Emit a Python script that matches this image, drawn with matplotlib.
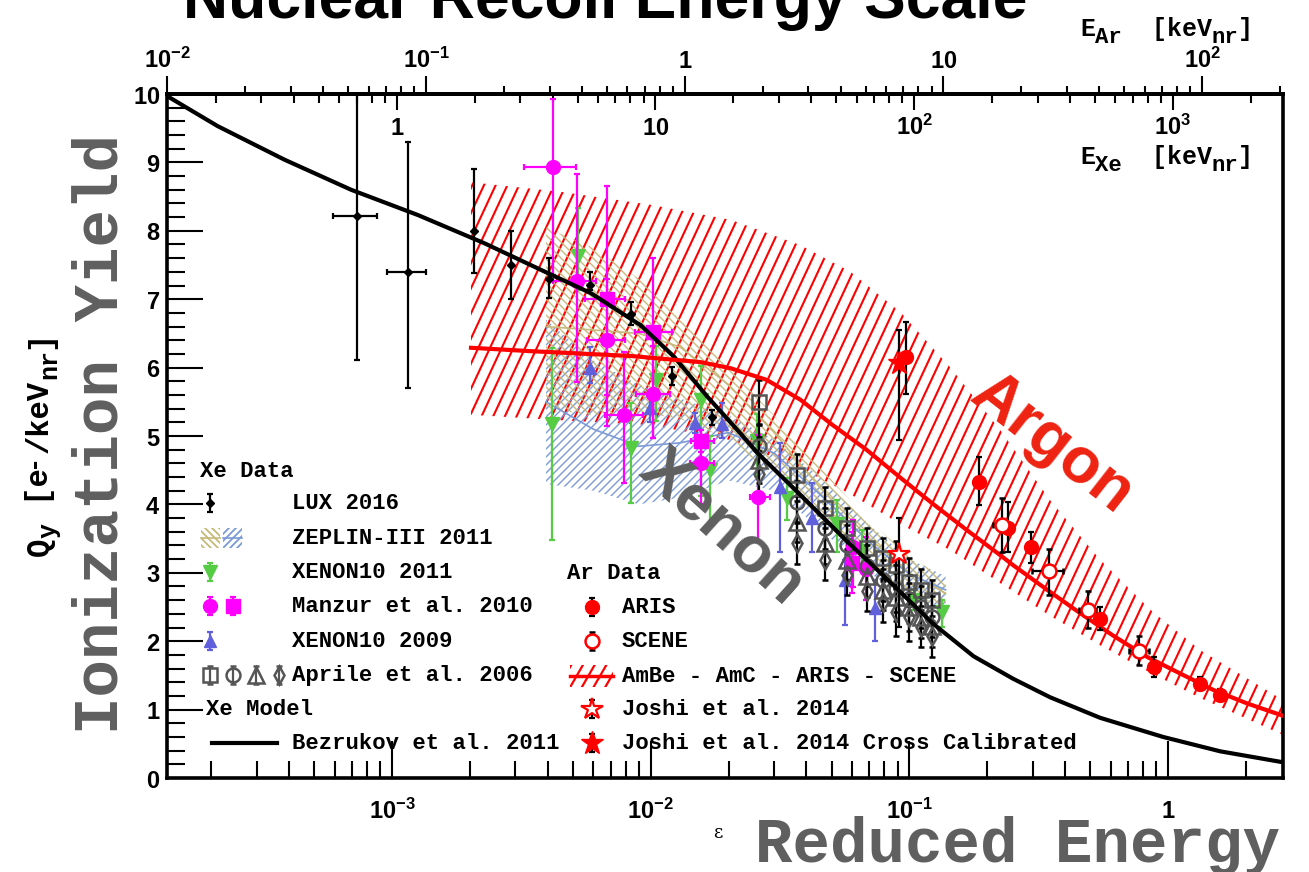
import numpy as np
import matplotlib
matplotlib.use("Agg")
import matplotlib.pyplot as plt
from matplotlib.patches import Polygon
from matplotlib.collections import LineCollection
from matplotlib.ticker import (LogLocator, FixedLocator, FuncFormatter, MultipleLocator,
                               NullFormatter)

plt.rcParams["mathtext.fontset"] = "custom"
plt.rcParams["mathtext.rm"] = "Liberation Mono:bold"
plt.rcParams["mathtext.it"] = "Liberation Mono:bold"
plt.rcParams["mathtext.bf"] = "Liberation Sans:bold"
plt.rcParams["mathtext.sf"] = "Liberation Sans:bold"
plt.rcParams["mathtext.default"] = "rm"

# ---------------- data (reduced energy epsilon, charge yield Qy) ----------------
# Bezrukov et al. 2011 model curve
bez_eps = [1.365e-4, 2.12e-4, 3.84e-4, 6.95e-4, 1.26e-3, 2.27e-3, 3.76e-3, 5.86e-3, 9.14e-3,
           1.23e-2, 1.66e-2, 2.22e-2, 2.59e-2, 3.79e-2, 5.92e-2, 7.73e-2, 9.22e-2, 1.24e-1,
           1.77e-1, 2.52e-1, 3.50e-1, 5.46e-1, 9.57e-1, 1.59, 2.78]
bez_q = [9.96, 9.53, 9.04, 8.60, 8.23, 7.82, 7.43, 7.09, 6.62,
         6.16, 5.57, 5.04, 4.75, 4.14, 3.41, 3.00, 2.72, 2.25,
         1.78, 1.45, 1.18, 0.88, 0.60, 0.39, 0.23]

# LUX 2016
lux_eps = [7.33e-4, 1.15e-3, 2.08e-3, 2.88e-3, 4.05e-3, 5.83e-3, 8.38e-3, 1.21e-2, 1.73e-2]
lux_q = [8.21, 7.40, 8.00, 7.50, 7.29, 7.21, 6.79, 5.87, 5.28]
lux_err_lo = [2.10, 1.70, 0.61, 0.50, 0.27, 0.08, 0.17, 0.12, 0.12]
lux_err_hi = [1.90, 1.90, 0.90, 0.50, 0.31, 0.19, 0.17, 0.14, 0.10]
lux_xerr_lo = [1.43e-4, 1.93e-4, 0, 0, 0, 0, 0, 0, 0]
lux_xerr_hi = [1.42e-4, 2.0e-4, 0, 0, 0, 0, 0, 0, 0]

# ZEPLIN-III 2011 bands (upper, centre, lower)
zep1_eps = [3.94e-3, 6.0e-3, 9.0e-3, 1.3e-2, 2.0e-2, 3.0e-2, 4.5e-2, 7.0e-2, 1.0e-1, 1.38e-1]
zep1_hi = [8.05, 7.75, 7.30, 6.70, 6.00, 5.30, 4.55, 3.75, 3.25, 2.90]
zep1_mid = [6.60, 6.55, 6.50, 6.30, 5.75, 5.05, 4.25, 3.50, 3.00, 2.70]
zep1_lo = [5.40, 5.30, 5.35, 5.25, 4.95, 4.40, 3.80, 3.10, 2.70, 2.45]
zep2_eps = [3.94e-3, 6.0e-3, 9.0e-3, 1.3e-2, 2.0e-2, 3.0e-2, 4.5e-2, 7.0e-2, 1.0e-1, 1.38e-1]
zep2_hi = [6.70, 6.10, 5.75, 5.55, 5.30, 4.95, 4.40, 3.70, 3.20, 2.95]
zep2_mid = [5.50, 5.10, 4.85, 4.90, 5.05, 4.75, 4.15, 3.45, 2.98, 2.75]
zep2_lo = [4.30, 4.20, 4.00, 4.10, 4.35, 4.20, 3.65, 3.00, 2.60, 2.50]

# XENON10 2011
x11_eps = [4.17e-3, 5.24e-3, 8.38e-3, 1.05e-2, 1.56e-2, 1.69e-2, 2.58e-2, 3.35e-2, 5.26e-2, 6.56e-2, 1.04e-1, 1.34e-1]
x11_q = [5.18, 7.63, 4.82, 5.82, 5.53, 4.50, 4.92, 4.09, 3.71, 3.32, 2.60, 2.43]
x11_err_lo = [1.70, 0.50, 0.80, 0.60, 1.40, 0.80, 0.50, 0.32, 0.40, 0.30, 0.15, 0.22]
x11_err_hi = [1.10, 0.70, 0.66, 0.50, 0.50, 0.50, 0.40, 0.30, 0.35, 0.30, 0.15, 0.17]

# Manzur et al. 2010 (circles and squares)
manc_eps = [4.20e-3, 5.18e-3, 6.76e-3, 7.85e-3, 1.02e-2, 1.57e-2, 2.59e-2, 6.07e-2, 6.82e-2]
manc_q = [8.93, 7.27, 6.40, 5.30, 5.61, 4.61, 4.11, 3.38, 3.06]
manc_err_lo = [1.58, 1.48, 0.80, 0.99, 0.64, 0.60, 0.66, 0.59, 0.46]
manc_err_hi = [1.00, 1.56, 0.90, 0.93, 0.70, 0.40, 0.90, 0.39, 0.47]
manc_xerr_lo = [0.95e-3, 0.98e-3, 1.1e-3, 1.2e-3, 1.4e-3, 1.5e-3, 1.8e-3, 0, 0]
manc_xerr_hi = [0.95e-3, 0.95e-3, 1.2e-3, 1.5e-3, 1.7e-3, 1.8e-3, 3.0e-3, 0, 0]
mans_eps = [6.76e-3, 1.02e-2, 1.57e-2, 6.00e-2]
mans_q = [7.01, 6.52, 4.93, 3.15]
mans_err_lo = [1.87, 1.55, 0.16, 0.45]
mans_err_hi = [1.64, 1.08, 0.16, 0.45]
mans_xerr_lo = [1.2e-3, 1.5e-3, 1.4e-3, 0]
mans_xerr_hi = [1.2e-3, 1.9e-3, 1.9e-3, 0]

# XENON10 2009
x09_eps = [5.82e-3, 9.93e-3, 1.48e-2, 1.89e-2, 3.15e-2, 4.19e-2, 5.66e-2, 7.33e-2]
x09_q = [5.99, 5.41, 5.19, 5.18, 4.26, 3.80, 2.89, 2.48]
x09_err_lo = [0.22, 0.20, 0.15, 0.21, 0.95, 0.49, 0.65, 0.48]
x09_err_hi = [0.31, 0.15, 0.15, 0.30, 0.64, 0.51, 0.30, 0.41]

# Aprile et al. 2006 (four data sets at common energies)
apr_eps = [2.62e-2, 3.68e-2, 4.72e-2, 5.74e-2, 6.85e-2, 7.91e-2, 8.87e-2, 9.95e-2, 1.11e-1, 1.22e-1]
apr_sq = [5.49, 4.43, 3.95, 3.65, 3.36, 3.21, 3.11, 2.87, 2.75, 2.60]
apr_ci = [4.85, 4.04, 3.65, 3.40, 3.10, 2.89, 2.77, 2.62, 2.50, 2.36]
apr_tr = [4.65, 3.75, 3.43, 3.19, 2.95, 2.75, 2.65, 2.50, 2.35, 2.22]
apr_di = [4.45, 3.43, 3.19, 2.97, 2.74, 2.58, 2.43, 2.35, 2.21, 2.07]
apr_err = [0.33, 0.30, 0.30, 0.30, 0.30, 0.30, 0.35, 0.35, 0.30, 0.30]

# Argon: ARIS
aris_eps = [9.73e-2, 1.86e-1, 2.40e-1, 2.95e-1, 5.46e-1, 8.83e-1, 1.33, 1.59]
aris_q = [6.15, 4.33, 3.66, 3.37, 2.33, 1.63, 1.38, 1.22]
aris_err_lo = [0.53, 0.34, 0.35, 0.23, 0.17, 0.15, 0.10, 0.08]
aris_err_hi = [0.52, 0.36, 0.38, 0.23, 0.17, 0.14, 0.10, 0.08]
# Argon: SCENE
scene_eps = [2.28e-1, 3.45e-1, 4.89e-1, 7.73e-1]
scene_q = [3.70, 3.02, 2.46, 1.86]
scene_err_lo = [0.39, 0.34, 0.27, 0.21]
scene_err_hi = [0.39, 0.33, 0.28, 0.21]
scene_xerr = [1.8e-2, 4.6e-2, 3.8e-2, 7.0e-2]
# Argon: Joshi et al. 2014 and its cross-calibrated value
joshi_eps = [9.10e-2]
joshi_q = [3.28]
joshi_err_lo = [1.07]
joshi_err_hi = [0.52]
joshicc_eps = [9.10e-2]
joshicc_q = [6.06]
joshicc_err_lo = [1.12]
joshicc_err_hi = [0.49]

# Argon model curve
ar_eps = [2.02e-3, 3.44e-3, 8.38e-3, 1.56e-2, 2.04e-2, 2.81e-2, 3.79e-2, 5.05e-2, 6.82e-2,
          9.23e-2, 1.24e-1, 1.66e-1, 2.24e-1, 2.52e-1, 3.41e-1, 4.57e-1, 6.14e-1, 8.30e-1,
          1.11, 1.49, 2.02, 2.78]
ar_q = [6.29, 6.24, 6.17, 6.08, 5.99, 5.82, 5.53, 5.16, 4.80,
        4.39, 4.00, 3.63, 3.26, 3.11, 2.75, 2.41, 2.08, 1.77,
        1.53, 1.29, 1.09, 0.91]
# AmBe - AmC - ARIS - SCENE band
arb_eps = [2.02e-3, 4.50e-3, 1.0e-2, 2.04e-2, 3.79e-2, 5.92e-2, 9.23e-2, 1.44e-1, 2.24e-1,
           3.50e-1, 5.46e-1, 8.53e-1, 1.33, 2.78]
arb_hi = [8.71, 8.57, 8.38, 8.16, 7.79, 7.40, 6.81, 6.00, 5.09, 4.06, 3.19, 2.46, 1.87, 1.14]
arb_lo = [5.31, 5.23, 5.16, 4.94, 4.53, 4.15, 3.71, 3.33, 2.85, 2.37, 1.94, 1.54, 1.17, 0.63]

# axis tick positions
eps_ticks = [1e-3, 1e-2, 1e-1, 1]
ear_ticks = [1e-2, 1e-1, 1, 10, 100]
exe_ticks = [1, 10, 100, 1000]

# ---------------- figure ----------------
W, H = 1309, 872
PT = 100 / 72.0
fig = plt.figure(figsize=(W / 100, H / 100), dpi=100)
L, R, T, B = 167, 1283, 94, 778
ax = fig.add_axes([L / W, 1 - B / H, (R - L) / W, (B - T) / H])
ax.set_xscale("log")
ax.set_xlim(1.35e-4, 2.78)
ax.set_ylim(0, 10)

AW, AH = R - L, B - T


def pa(x, y):
    """pixel position -> axes fraction"""
    return (x - L) / AW, (B - y) / AH


def hatch_lines(angle_deg, spacing_px):
    t = np.tan(np.radians(angle_deg))
    segs = []
    dx = AH / t
    for x0 in np.arange(-abs(dx) - 50, AW + abs(dx) + 50, spacing_px):
        segs.append([(x0 / AW, 0.0), ((x0 + dx) / AW, 1.0)])
    return segs


def hatched_band(xs, lo, hi, color, angle, spacing, lw, z):
    verts = list(zip(xs, hi)) + list(zip(xs[::-1], lo[::-1]))
    poly = Polygon(verts, closed=True, facecolor="none", edgecolor="none")
    ax.add_patch(poly)
    lc = LineCollection(hatch_lines(angle, spacing), colors=color, linewidths=lw,
                        transform=ax.transAxes, zorder=z)
    ax.add_collection(lc)
    lc.set_clip_path(poly)
    return lc


TAN = "#c6b97a"
BLUE_Z = "#7b9ad6"
RED = "#ff0000"
GREEN = "#55cc44"
MAG = "#ff00ff"
VIOLET = "#6060dd"
GRAY = "#555555"

# bands
hatched_band(arb_eps, arb_lo, arb_hi, RED, 65, 11.7, 1.5, 2)
hatched_band(zep2_eps, zep2_lo, zep2_hi, BLUE_Z, 45, 8.0, 1.0, 3)
hatched_band(zep1_eps, zep1_lo, zep1_hi, TAN, -45, 8.0, 1.0, 3)
ax.plot(zep1_eps, zep1_mid, color=TAN, lw=1.2, zorder=3)
ax.plot(zep2_eps, zep2_mid, color=BLUE_Z, lw=1.2, zorder=3)

# xenon data
eb = dict(capsize=2.5, elinewidth=1.6, capthick=1.6, linestyle="none")
ax.errorbar(x11_eps, x11_q, yerr=[x11_err_lo, x11_err_hi], marker="v", ms=10,
            color=GREEN, mec=GREEN, zorder=5, **eb)
ax.errorbar(x09_eps, x09_q, yerr=[x09_err_lo, x09_err_hi], marker="^", ms=9,
            color=VIOLET, mec=VIOLET, zorder=5, **eb)
ax.errorbar(manc_eps, manc_q, yerr=[manc_err_lo, manc_err_hi],
            xerr=[manc_xerr_lo, manc_xerr_hi], marker="o", ms=10, color=MAG, zorder=6, **eb)
ax.errorbar(mans_eps, mans_q, yerr=[mans_err_lo, mans_err_hi],
            xerr=[mans_xerr_lo, mans_xerr_hi], marker="s", ms=10, color=MAG, zorder=6, **eb)
for ys, mk, ms in [(apr_sq, "s", 10), (apr_ci, "o", 10), (apr_tr, "^", 11), (apr_di, "d", 9)]:
    ax.errorbar(apr_eps, ys, yerr=apr_err, marker=mk, ms=ms, mfc="none", mec=GRAY, mew=1.8,
                ecolor="black", zorder=6, **eb)
ax.errorbar(lux_eps, lux_q, yerr=[lux_err_lo, lux_err_hi], xerr=[lux_xerr_lo, lux_xerr_hi],
            marker="D", ms=4.5, color="black", zorder=7, **eb)
ax.plot(bez_eps, bez_q, color="black", lw=3.0, zorder=8, solid_capstyle="butt")

# argon data
ax.plot(ar_eps, ar_q, color=RED, lw=3.0, zorder=8)
ax.errorbar(aris_eps, aris_q, yerr=[aris_err_lo, aris_err_hi], marker="o", ms=10,
            color=RED, ecolor="black", zorder=9, **eb)
ax.errorbar(scene_eps, scene_q, yerr=[scene_err_lo, scene_err_hi], xerr=scene_xerr,
            marker="o", ms=10, mfc="white", mec=RED, mew=1.8, ecolor="black", zorder=9, **eb)
ax.errorbar(joshi_eps, joshi_q, yerr=[joshi_err_lo, joshi_err_hi], marker="*", ms=16,
            mfc="white", mec=RED, mew=1.6, ecolor="black", zorder=9, **eb)
ax.errorbar(joshicc_eps, joshicc_q, yerr=[joshicc_err_lo, joshicc_err_hi], marker="*", ms=17,
            color=RED, ecolor="black", zorder=9, **eb)

# ---------------- axes styling ----------------
for s in ax.spines.values():
    s.set_linewidth(2.6)
ax.set_zorder(1)


def log_label(v, pos):
    e = int(round(np.log10(v)))
    if e == 0:
        return r"$\mathbf{1}$"
    if e == 1:
        return r"$\mathbf{10}$"
    return r"$\mathbf{10^{%d}}$" % e


ax.xaxis.set_major_locator(FixedLocator(eps_ticks))
ax.xaxis.set_minor_locator(LogLocator(base=10, subs=np.arange(2, 10), numticks=20))
ax.xaxis.set_major_formatter(FuncFormatter(log_label))
ax.xaxis.set_minor_formatter(NullFormatter())
ax.yaxis.set_major_locator(MultipleLocator(1))
ax.yaxis.set_minor_locator(MultipleLocator(0.2))
ax.yaxis.set_major_formatter(FuncFormatter(lambda v, p: r"$\mathbf{%d}$" % round(v)))
ax.tick_params(axis="x", which="major", direction="in", length=27, width=1.5,
               labelsize=17, pad=15, top=False)
ax.tick_params(axis="x", which="minor", direction="in", length=12, width=1.5, top=False)
ax.tick_params(axis="y", which="major", direction="in", length=26, width=1.5,
               labelsize=17, pad=5, right=False)
ax.tick_params(axis="y", which="minor", direction="in", length=13, width=1.5, right=False)

k_ar = 11.5 * 18 ** (-7.0 / 3.0)
k_xe = 11.5 * 54 ** (-7.0 / 3.0)
sec_ar = ax.secondary_xaxis("top", functions=(lambda e: e / k_ar, lambda E: E * k_ar))
sec_xe = ax.secondary_xaxis("top", functions=(lambda e: e / k_xe, lambda E: E * k_xe))
for sx, ticks in ((sec_ar, ear_ticks), (sec_xe, exe_ticks)):
    sx.xaxis.set_major_locator(FixedLocator(ticks))
    sx.xaxis.set_minor_locator(LogLocator(base=10, subs=np.arange(2, 10), numticks=20))
    sx.xaxis.set_major_formatter(FuncFormatter(log_label))
    sx.xaxis.set_minor_formatter(NullFormatter())
    sx.spines["top"].set_linewidth(2.6)
sec_ar.tick_params(axis="x", which="major", direction="out", length=13, width=1.5,
                   labelsize=17, pad=2)
sec_ar.tick_params(axis="x", which="minor", direction="out", length=6, width=1.5)
sec_xe.tick_params(axis="x", which="major", direction="in", length=11.5, width=1.5,
                   labelsize=17, pad=-33)
sec_xe.tick_params(axis="x", which="minor", direction="in", length=6.5, width=1.5)

# ---------------- text ----------------
MONO = "Liberation Mono"
SANS = "Liberation Sans"


def mono_pieces(x0, y0, pieces, rot=0):
    """Lay out bold monospace pieces (text, size, baseline shift in px) along a line."""
    pos = 0.0
    for s, size, shift in pieces:
        if rot == 0:
            fig.text((x0 + pos) / W, 1 - (y0 + shift) / H, s, family=MONO, weight="bold",
                     size=size, ha="left", va="baseline")
        else:
            fig.text((x0 + shift) / W, 1 - (y0 - pos) / H, s, family=MONO, weight="bold",
                     size=size, ha="left", va="baseline", rotation=90,
                     rotation_mode="anchor")
        pos += len(s) * 0.6 * size * PT


fig.text(605 / W, 1 - 18 / H, "Nuclear Recoil Energy Scale", family=SANS, weight="bold",
         size=45, ha="center", va="baseline")
mono_pieces(1080, 36, [("E", 18, 0), ("Ar", 16, 7), ("  [keV", 18, 0), ("nr", 16, 7),
                       ("]", 18, 0)])
mono_pieces(1080, 164, [("E", 18, 0), ("Xe", 16, 7), ("  [keV", 18, 0), ("nr", 16, 7),
                        ("]", 18, 0)])
mono_pieces(48, 556, [("Q", 22, 0), ("y", 18, 8), (" [e", 22, 0), ("-", 18, -9),
                      ("/keV", 22, 0), ("nr", 18, 8), ("]", 22, 0)], rot=90)
fig.text(1018 / W, 1 - 862 / H, "Reduced Energy", family=MONO, weight="bold", size=45,
         color="#5f5f5f", ha="center", va="baseline")
fig.text(718 / W, 1 - 833 / H, "\u03b5", family="DejaVu Serif", size=13, ha="center",
         va="center")
fig.text(101 / W, 1 - 434 / H, "Ionization Yield", family=MONO, weight="bold", size=45,
         color="#5f5f5f", rotation=90, ha="center", va="center")
ax.text(*pa(1052, 444), "Argon", transform=ax.transAxes, family=SANS, weight="bold",
        size=46, color="#ee2211", rotation=-38, ha="center", va="center",
        rotation_mode="anchor", zorder=10)
ax.text(*pa(722, 528), "Xenon", transform=ax.transAxes, family=SANS, weight="bold",
        size=47, color="#5f5f5f", rotation=-42, ha="center", va="center",
        rotation_mode="anchor", zorder=10)

# ---------------- legend keys ----------------
lt = dict(transform=ax.transAxes, family=MONO, weight="bold", size=16, va="center",
          ha="left", zorder=11)


def key_err(x, y, **kw):
    fx, fy = pa(x, y)
    ax.errorbar([fx], [fy], yerr=[[9 / AH], [9 / AH]], transform=ax.transAxes,
                clip_on=False, zorder=11, capsize=2.5, elinewidth=1.6, capthick=1.6,
                linestyle="none", **kw)


ax.text(*pa(200, 471), "Xe Data", **lt)
key_err(210, 503, marker="D", ms=4.5, color="black")
ax.text(*pa(292, 503), "LUX 2016", **lt)
for x0, col, ang in [(201, TAN, -45), (223, BLUE_Z, 45)]:
    sw = Polygon([pa(x0, 528), pa(x0 + 19, 528), pa(x0 + 19, 548), pa(x0, 548)],
                 closed=True, transform=ax.transAxes, facecolor="none", edgecolor="none")
    ax.add_patch(sw)
    lc = LineCollection(hatch_lines(ang, 7.0), colors=col, linewidths=1.3,
                        transform=ax.transAxes, zorder=11)
    ax.add_collection(lc)
    lc.set_clip_path(sw)
    ax.plot(*zip(pa(x0, 538), pa(x0 + 19, 538)), transform=ax.transAxes, color=col, lw=1.2,
            zorder=11)
ax.text(*pa(292, 538), "ZEPLIN-III 2011", **lt)
key_err(210, 572, marker="v", ms=10, color=GREEN)
ax.text(*pa(292, 572), "XENON10 2011", **lt)
key_err(210, 606, marker="o", ms=10, color=MAG)
key_err(233, 606, marker="s", ms=10, color=MAG)
ax.text(*pa(292, 606), "Manzur et al. 2010", **lt)
key_err(210, 641, marker="^", ms=9, color=VIOLET)
ax.text(*pa(292, 641), "XENON10 2009", **lt)
for xk, mk, ms in [(210, "s", 10), (233, "o", 10), (256, "^", 11), (279, "d", 9)]:
    key_err(xk, 675, marker=mk, ms=ms, mfc="none", mec=GRAY, mew=1.8, ecolor=GRAY)
ax.text(*pa(292, 675), "Aprile et al. 2006", **lt)
ax.text(*pa(206, 709), "Xe Model", **lt)
ax.plot(*zip(pa(212, 743), pa(277, 743)), transform=ax.transAxes, color="black", lw=3.0,
        zorder=11)
ax.text(*pa(292, 743), "Bezrukov et al. 2011", **lt)

ax.text(*pa(567, 573), "Ar Data", **lt)
key_err(592, 607, marker="o", ms=10, color=RED, ecolor="black")
ax.text(*pa(622, 607), "ARIS", **lt)
key_err(592, 641, marker="o", ms=10, mfc="white", mec=RED, mew=1.8, ecolor="black")
ax.text(*pa(622, 641), "SCENE", **lt)
sw = Polygon([pa(570, 665), pa(613, 665), pa(613, 687), pa(570, 687)], closed=True,
             transform=ax.transAxes, facecolor="none", edgecolor="none")
ax.add_patch(sw)
lc = LineCollection(hatch_lines(60, 11.7), colors=RED, linewidths=1.6,
                    transform=ax.transAxes, zorder=11)
ax.add_collection(lc)
lc.set_clip_path(sw)
ax.plot(*zip(pa(570, 676), pa(613, 676)), transform=ax.transAxes, color=RED, lw=2.5, zorder=11)
ax.text(*pa(622, 676), "AmBe - AmC - ARIS - SCENE", **lt)
key_err(592, 709, marker="*", ms=16, mfc="white", mec=RED, mew=1.6, ecolor="black")
ax.text(*pa(622, 709), "Joshi et al. 2014", **lt)
key_err(592, 743, marker="*", ms=17, color=RED, ecolor="black")
ax.text(*pa(622, 743), "Joshi et al. 2014 Cross Calibrated", **lt)

fig.savefig("out.png", dpi=100)
